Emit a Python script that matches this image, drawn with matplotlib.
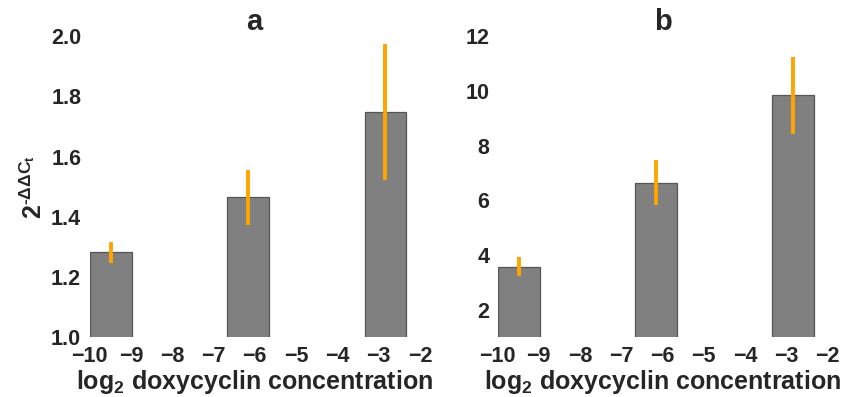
import numpy as np
import matplotlib
matplotlib.use("Agg")
import matplotlib.pyplot as plt

# doxycyclin concentrations (log2 scale) and relative expression
log2_conc = [-9.48, -6.16, -2.84]

fold_a = [1.282, 1.464, 1.749]
err_a = [0.035, 0.090, 0.226]

fold_b = [3.57, 6.64, 9.84]
err_b = [0.35, 0.82, 1.40]

panel_titles = ["a", "b"]
ylims = [(1.0, 2.0), (1.0, 12.0)]
xticks = [-10, -9, -8, -7, -6, -5, -4, -3, -2]
yticks_a = [1.0, 1.2, 1.4, 1.6, 1.8, 2.0]
yticks_b = [2, 4, 6, 8, 10, 12]

plt.rcParams["font.family"] = ["Liberation Sans", "DejaVu Sans"]
plt.rcParams["font.weight"] = "bold"
plt.rcParams["mathtext.fontset"] = "custom"
plt.rcParams["mathtext.rm"] = "Liberation Sans:bold"
plt.rcParams["mathtext.bf"] = "Liberation Sans:bold"
plt.rcParams["mathtext.it"] = "Liberation Sans:bold"
plt.rcParams["mathtext.sf"] = "Liberation Sans:bold"
text_color = "#262626"

fig = plt.figure(figsize=(8.42, 3.97), dpi=100)
ax_a = fig.add_axes([0.1063, 0.1504, 0.3925, 0.7589])
ax_b = fig.add_axes([0.5909, 0.1504, 0.3920, 0.7589])

for ax, vals, errs, title, ylim, yticks, fmt in [
    (ax_a, fold_a, err_a, panel_titles[0], ylims[0], yticks_a, "{:.1f}"),
    (ax_b, fold_b, err_b, panel_titles[1], ylims[1], yticks_b, "{:d}"),
]:
    ax.bar(log2_conc, vals, width=1.0, color="#808080",
           edgecolor="#555555", linewidth=0.9, zorder=2)
    ax.errorbar(log2_conc, vals, yerr=errs, fmt="none", ecolor="#FFA500",
                elinewidth=2.8, capsize=0, zorder=3)
    ax.set_xlim(-10, -2)
    ax.set_ylim(*ylim)
    ax.set_xticks(xticks)
    ax.set_xticklabels([f"\u2212{abs(t)}" for t in xticks])
    ax.set_yticks(yticks)
    ax.set_yticklabels([fmt.format(t) for t in yticks])
    for s in ax.spines.values():
        s.set_visible(False)
    ax.tick_params(length=0, labelsize=15.5, colors=text_color, pad=6)
    for lbl in ax.get_xticklabels() + ax.get_yticklabels():
        lbl.set_fontweight("bold")
    ax.set_title(title, fontsize=21, fontweight="bold", color=text_color, pad=0)
    ax.set_xlabel(r"log$_\mathbf{2}$ doxycyclin concentration", fontsize=18,
                  fontweight="bold", color=text_color, labelpad=1)

ax_a.set_ylabel("2$^{\u2010\\mathbf{\u0394\u0394C_t}}$", fontsize=18,
                fontweight="bold", color=text_color, labelpad=3)

fig.savefig("out.png", dpi=100, facecolor="white")
